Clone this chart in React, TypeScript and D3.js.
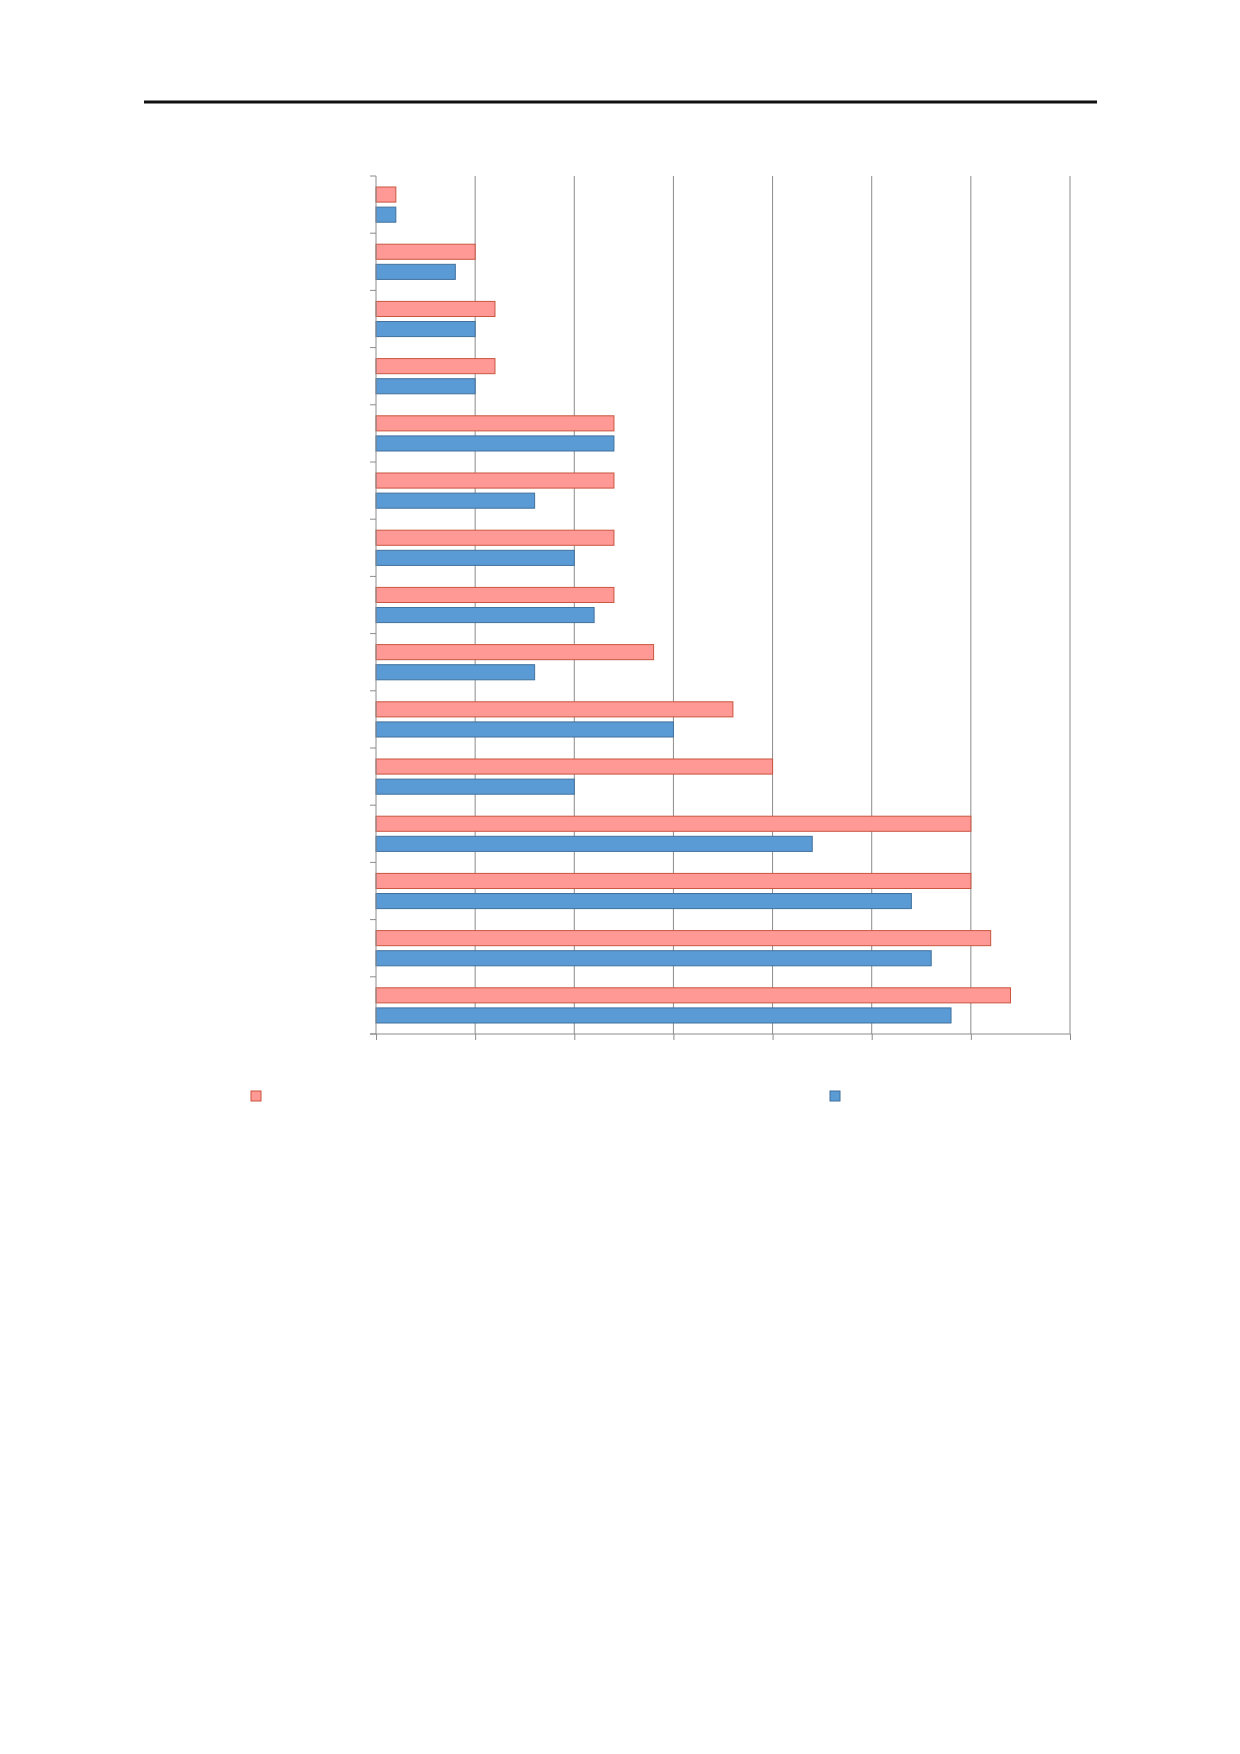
import React, { useEffect, useRef } from 'react';
import * as d3 from 'd3';

// categories listed top to bottom
const categories = ['1', '2', '3', '4', '5', '6', '7', '8', '9', '10', '11', '12', '13', '14', '15'];
const seriesA = [1, 5, 6, 6, 12, 12, 12, 12, 14, 18, 20, 30, 30, 31, 32];
const seriesB = [1, 4, 5, 5, 12, 8, 10, 11, 8, 15, 10, 22, 27, 28, 29];
const seriesKeys = ['a', 'b'];
const xTicks = [0, 5, 10, 15, 20, 25, 30, 35];

const fills: Record<string, string> = { a: '#ff9996', b: '#5b9bd5' };
const strokes: Record<string, string> = { a: '#c9553f', b: '#41719c' };

export default function App() {
  const svgRef = useRef<SVGSVGElement>(null);
  const width = 1240;
  const height = 1754;
  const margin = { top: 176, left: 376, right: 170, bottom: 720 };

  useEffect(() => {
    if (!svgRef.current) return;
    const svg = d3.select(svgRef.current);
    svg.selectAll('*').remove();

    const innerWidth = width - margin.left - margin.right;
    const innerHeight = height - margin.top - margin.bottom;

    // page rule at the top
    svg.append('line')
      .attr('x1', 144).attr('x2', 1097)
      .attr('y1', 102).attr('y2', 102)
      .attr('stroke', '#111')
      .attr('stroke-width', 3);

    const g = svg.append('g')
      .attr('transform', `translate(${margin.left}, ${margin.top})`);

    const xScale = d3.scaleLinear().domain([0, 35]).range([0, innerWidth]);

    const yScale = d3.scaleBand()
      .domain(categories)
      .range([0, innerHeight])
      .paddingInner(0)
      .paddingOuter(0);

    const inner = d3.scaleBand()
      .domain(seriesKeys)
      .range([11, yScale.bandwidth() - 11])
      .paddingInner(0.25);

    // vertical gridlines
    g.append('g')
      .selectAll('line')
      .data(xTicks.slice(1))
      .enter().append('line')
      .attr('x1', d => xScale(d)).attr('x2', d => xScale(d))
      .attr('y1', 0).attr('y2', innerHeight)
      .attr('stroke', '#8c8c8c')
      .attr('stroke-width', 1);

    const rows = categories.map((c, i) => ({ c, a: seriesA[i], b: seriesB[i] }));

    const bandG = g.selectAll('.band')
      .data(rows)
      .enter().append('g')
      .attr('class', 'band')
      .attr('transform', d => `translate(0, ${yScale(d.c)})`);

    bandG.selectAll('rect')
      .data(d => seriesKeys.map(k => ({ k, v: (d as any)[k] as number })))
      .enter().append('rect')
      .attr('x', xScale(0))
      .attr('y', d => inner(d.k) || 0)
      .attr('width', d => xScale(d.v) - xScale(0))
      .attr('height', inner.bandwidth())
      .attr('fill', d => fills[d.k])
      .attr('stroke', d => strokes[d.k])
      .attr('stroke-width', 1);

    // Y axis (no labels)
    const yAxisG = g.append('g')
      .call(d3.axisLeft(yScale).tickValues([]).tickSizeOuter(0));
    const yTickPos = d3.range(categories.length + 1).map(i => i * yScale.step());
    yAxisG.selectAll('.tk')
      .data(yTickPos)
      .enter().append('line')
      .attr('x1', -6).attr('x2', 0)
      .attr('y1', d => d).attr('y2', d => d)
      .attr('stroke', '#8c8c8c');

    // X axis (no labels)
    const xAxisG = g.append('g')
      .attr('transform', `translate(0, ${innerHeight})`)
      .call(d3.axisBottom(xScale).tickValues(xTicks).tickSize(6).tickFormat(() => ''));

    g.selectAll('.domain')
      .style('stroke', '#8c8c8c')
      .style('stroke-width', '1px');
    xAxisG.selectAll('.tick line')
      .style('stroke', '#8c8c8c');
    yAxisG.select('.domain').attr('d', `M0,0V${innerHeight}`);
    xAxisG.select('.domain').attr('d', `M-6,0H${innerWidth}`);

    // legend
    const legendX = [251, 830];
    const legend = svg.append('g');
    seriesKeys.forEach((k, i) => {
      legend.append('rect')
        .attr('x', legendX[i])
        .attr('y', 1091)
        .attr('width', 10)
        .attr('height', 10)
        .attr('fill', fills[k])
        .attr('stroke', strokes[k])
        .attr('stroke-width', 1);
    });
  }, []);

  return (
    <div style={{ position: 'absolute', left: 0, top: 0 }}>
      <svg ref={svgRef} width={width} height={height} viewBox={`0 0 ${width} ${height}`} style={{ display: 'block', background: '#fff' }} />
    </div>
  );
}
